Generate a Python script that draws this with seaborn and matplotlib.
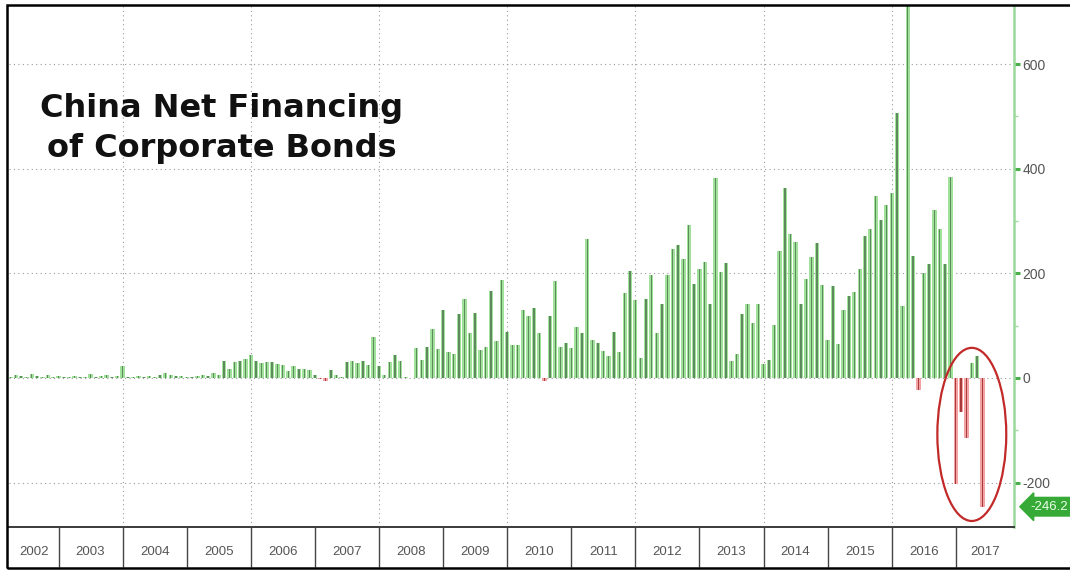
import numpy as np
import pandas as pd
import matplotlib
matplotlib.use("Agg")
import matplotlib.pyplot as plt
import matplotlib.transforms as mtransforms
from matplotlib.patches import Ellipse, Rectangle
import seaborn as sns

# Monthly net financing of corporate bonds (CNY bn), March 2002 - June 2017
start_year, start_month = 2002, 3
net_2002 = [2, 1, 6, 4, 1, 7, 3, 1, 5, 2]
net_2003 = [3, 1, 2, 4, 1, 2, 8, 1, 3, 6, 2, 4]
net_2004 = [22, 2, 1, 3, 2, 4, 1, 5, 9, 6, 4, 3]
net_2005 = [2, 1, 4, 6, 3, 10, 6, 33, 18, 30, 32, 36]
net_2006 = [44, 32, 28, 30, 30, 26, 24, 14, 22, 18, 18, 15]
net_2007 = [6, -3, -6, 15, 5, 2, 30, 32, 28, 32, 24, 78]
net_2008 = [22, 5, 31, 43, 33, 1, -1, 57, 34, 59, 94, 55]
net_2009 = [130, 50, 45, 123, 151, 86, 124, 54, 60, 166, 71, 187]
net_2010 = [88, 63, 63, 130, 118, 134, 86, -5, 118, 185, 59, 67]
net_2011 = [58, 98, 86, 265, 73, 67, 52, 41, 88, 50, 162, 205]
net_2012 = [149, 39, 150, 197, 86, 141, 197, 246, 255, 227, 293, 179]
net_2013 = [208, 222, 142, 382, 203, 220, 32, 46, 122, 141, 105, 141]
net_2014 = [27, 35, 102, 243, 363, 276, 260, 141, 189, 232, 257, 178]
net_2015 = [73, 175, 65, 130, 156, 164, 208, 272, 285, 348, 302, 331]
net_2016 = [353, 506, 137, 730, 233, -24, 200, 218, 321, 285, 218, 384]
net_2017 = [-202, -65, -115, 28, 41, -246.2]

years = list(range(2002, 2018))
y_ticks = [-200, 0, 200, 400, 600]
y_minor = [-100, 100, 300, 500]
title = "China Net Financing\nof Corporate Bonds"

values = (net_2002 + net_2003 + net_2004 + net_2005 + net_2006 + net_2007
          + net_2008 + net_2009 + net_2010 + net_2011 + net_2012 + net_2013
          + net_2014 + net_2015 + net_2016 + net_2017)
first = (start_year - years[0]) * 12 + (start_month - 1)
df = pd.DataFrame({"month": np.arange(first, first + len(values)),
                   "value": values})
df["sign"] = np.where(df["value"] < 0, "neg", "pos")
last_value = df["value"].iloc[-1]

W, H = 1070, 570
fig = plt.figure(figsize=(W / 100, H / 100), dpi=100)
fig.patch.set_facecolor("white")
ax = fig.add_axes([9 / W, (H - 527) / H, (1014 - 9) / W, (527 - 6) / H])

# wide light bars plus a thin dark core, Bloomberg style
sns.barplot(data=df, x="month", y="value", hue="sign", native_scale=True,
            dodge=False, width=0.8, errorbar=None, legend=False,
            saturation=1, linewidth=0,
            palette={"pos": "#a0e299", "neg": "#f3a3a3"}, ax=ax)
sns.barplot(data=df, x="month", y="value", hue="sign", native_scale=True,
            dodge=False, width=0.25, errorbar=None, legend=False,
            saturation=1, linewidth=0,
            palette={"pos": "#5e8a5e", "neg": "#a83a3a"}, ax=ax)

x_left, x_right = 2.73, 190.9
ax.set_xlim(x_left, x_right)
ax.set_ylim(-285, 711)

# year separators and centred year labels
bounds = [12 * k for k in range(1, len(years))]
centers = [(max(12 * k, x_left) + min(12 * (k + 1), x_right)) / 2
           for k in range(len(years))]
ax.set_xticks(bounds)
ax.set_xticklabels([""] * len(bounds))
ax.set_xticks(centers, minor=True)
ax.set_xticklabels([str(y) for y in years], minor=True)
ax.tick_params(axis="x", which="major", direction="out", length=29,
               width=1.0, color="#444444")
ax.tick_params(axis="x", which="minor", length=0, pad=14,
               labelsize=9.5, labelcolor="#555555")

# right-hand value axis
ax.yaxis.tick_right()
ax.set_yticks(y_ticks)
ax.set_yticklabels([str(v) for v in y_ticks])
ax.set_yticks(y_minor, minor=True)
ax.tick_params(axis="y", which="major", direction="out", length=4,
               width=2.2, color="#4caf4c", pad=2, labelsize=10,
               labelcolor="#555555")
ax.tick_params(axis="y", which="minor", direction="out", length=3,
               width=1, color="#a5dca5")
ax.set_xlabel("")
ax.set_ylabel("")
for lab in ax.get_xticklabels(minor=True) + ax.get_yticklabels():
    lab.set_family("Liberation Sans")

# dotted grid
grid_style = dict(color="#9a9a9a", lw=0.8, ls=(0, (1, 3)), zorder=0)
for v in y_ticks:
    ax.axhline(v, **grid_style)
for k in range(2, len(years), 2):
    ax.axvline(12 * k, **grid_style)
ax.set_axisbelow(True)

for side in ("left", "top"):
    ax.spines[side].set_visible(False)
ax.spines["bottom"].set_color("#3a3a3a")
ax.spines["bottom"].set_linewidth(1.4)
ax.spines["right"].set_color("#9bd89b")
ax.spines["right"].set_linewidth(1.8)

# highlight of the 2017 outflows
ring = Ellipse((183.0, -108), width=12.9, height=331, fill=False,
               ec="#c22a2a", lw=1.6, clip_on=False, zorder=5)
ax.add_patch(ring)

# last-value tag on the axis
tag_tr = mtransforms.offset_copy(
    mtransforms.blended_transform_factory(ax.transAxes, ax.transData),
    fig=fig, x=16, y=0, units="dots")
ax.text(1.0, last_value, f"{last_value:.1f}", transform=tag_tr,
        ha="left", va="center", fontsize=9.5, color="#eaffea",
        family="Liberation Sans", clip_on=False,
        bbox=dict(boxstyle="larrow,pad=0.25", fc="#36a936", ec="#36a936"))

# chart title
fig.text(222 / W, 1 - 93 / H, title, ha="center", va="top",
         multialignment="center", fontsize=23, fontweight="bold",
         color="#111111", family="DejaVu Sans", linespacing=1.38)

# outer frame
fig.patches.append(Rectangle((7 / W, 2 / H), 1.05, (565 - 2) / H,
                             transform=fig.transFigure, fill=False,
                             ec="black", lw=1.8, clip_on=False))

fig.savefig("out.png", dpi=100)
